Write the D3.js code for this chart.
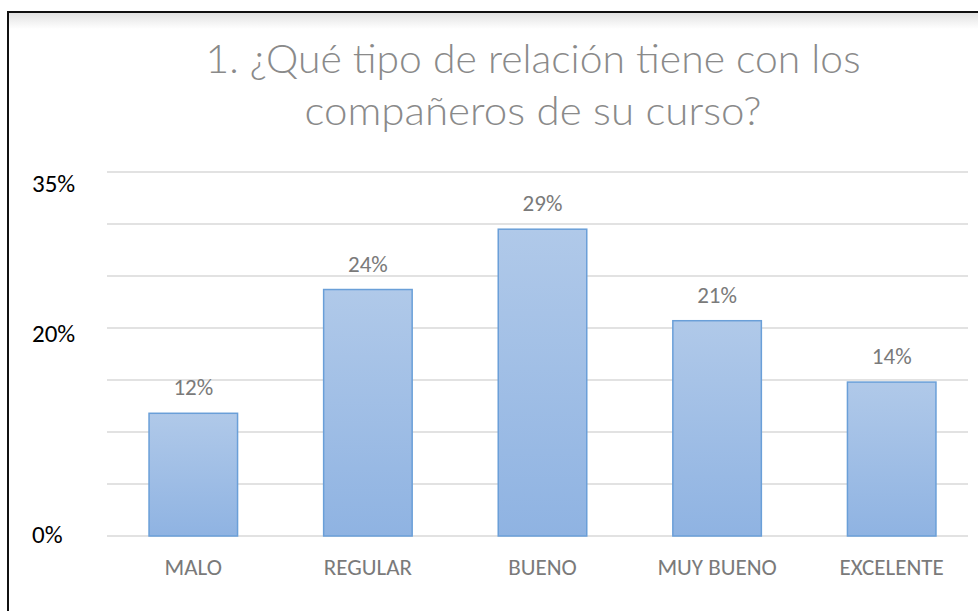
<!DOCTYPE html>
<html>
<head>
<meta charset="utf-8">
<script src="https://cdn.jsdelivr.net/npm/d3@7"></script>
<style>
  body { margin: 0; background: #fff; }
  svg { display: block; }
</style>
</head>
<body>
<div id="chart"></div>
<script>
const categories = ['MALO', 'REGULAR', 'BUENO', 'MUY BUENO', 'EXCELENTE'];
const values = [0.118, 0.237, 0.295, 0.207, 0.148];
const valueLabels = ['12%', '24%', '29%', '21%', '14%'];
const gridTicks = [0, 0.05, 0.10, 0.15, 0.20, 0.25, 0.30, 0.35];
const axisLabels = [0.35, 0.20, 0];
const titleLines = ['1. ¿Qué tipo de relación tiene con los', 'compañeros de su curso?'];

const width = 978;
const height = 611;
const font = "Carlito, 'Liberation Sans Narrow', 'DejaVu Sans Condensed', 'Open Sans', sans-serif";
const lightFont = "Lato, Carlito, 'Open Sans', sans-serif";

const svg = d3.select('#chart').append('svg')
  .attr('width', width)
  .attr('height', height);

const defs = svg.append('defs');

// bar gradient, light at the top
const barGrad = defs.append('linearGradient')
  .attr('id', 'barGrad')
  .attr('x1', 0).attr('y1', 0).attr('x2', 0).attr('y2', 1);
barGrad.append('stop').attr('offset', '0%').attr('stop-color', '#b0c9e9');
barGrad.append('stop').attr('offset', '100%').attr('stop-color', '#8fb3e2');

// soft shadow under the top frame line
const shadowGrad = defs.append('linearGradient')
  .attr('id', 'shadowGrad')
  .attr('x1', 0).attr('y1', 0).attr('x2', 0).attr('y2', 1);
shadowGrad.append('stop').attr('offset', '0%').attr('stop-color', '#e2e2e2');
shadowGrad.append('stop').attr('offset', '100%').attr('stop-color', '#ffffff');

svg.append('rect')
  .attr('x', 9).attr('y', 13)
  .attr('width', width - 9).attr('height', 16)
  .attr('fill', 'url(#shadowGrad)');

// frame: top and left lines only
svg.append('path')
  .attr('d', `M8,${height} V12 H${width}`)
  .attr('fill', 'none')
  .attr('stroke', '#111')
  .attr('stroke-width', 2);

const x = d3.scaleBand()
  .domain(categories)
  .range([106, 979])
  .paddingInner(0.493)
  .paddingOuter(0.2465);

const y = d3.scaleLinear()
  .domain([0, 0.35])
  .range([536, 172]);

// the left labels were pasted on and sit a little lower (baselines)
const yLabel = d3.scaleLinear()
  .domain([0, 0.35])
  .range([543, 192]);

// gridlines
svg.append('g')
  .selectAll('line')
  .data(gridTicks)
  .join('line')
  .attr('x1', 107)
  .attr('x2', 968)
  .attr('y1', d => y(d))
  .attr('y2', d => y(d))
  .attr('stroke', '#d9d9d9')
  .attr('stroke-width', 1.5);

// bars
svg.append('g')
  .selectAll('rect')
  .data(values)
  .join('rect')
  .attr('x', (d, i) => x(categories[i]))
  .attr('y', d => y(d))
  .attr('width', x.bandwidth())
  .attr('height', d => y(0) - y(d))
  .attr('fill', 'url(#barGrad)')
  .attr('stroke', '#6a9fd8')
  .attr('stroke-width', 1.5);

// value labels
svg.append('g')
  .selectAll('text')
  .data(values)
  .join('text')
  .attr('x', (d, i) => x(categories[i]) + x.bandwidth() / 2)
  .attr('y', d => y(d) - 18)
  .attr('text-anchor', 'middle')
  .attr('font-family', font)
  .attr('font-size', 23)
  .attr('fill', '#7a7a7a')
  .text((d, i) => valueLabels[i]);

// category labels
svg.append('g')
  .selectAll('text')
  .data(categories)
  .join('text')
  .attr('x', d => x(d) + x.bandwidth() / 2)
  .attr('y', 575)
  .attr('text-anchor', 'middle')
  .attr('font-family', font)
  .attr('font-size', 23)
  .attr('fill', '#7a7a7a')
  .text(d => d);

// y labels
svg.append('g')
  .selectAll('text')
  .data(axisLabels)
  .join('text')
  .attr('x', 32)
  .attr('y', d => yLabel(d))
  .attr('font-family', font)
  .attr('font-size', 25)
  .attr('fill', '#000')
  .text(d => d3.format('.0%')(d));

// title, squeezed to the width seen in the picture
const titleWidths = [655, 457];
svg.append('g')
  .selectAll('text')
  .data(titleLines)
  .join('text')
  .attr('x', 533)
  .attr('y', (d, i) => 73 + i * 52)
  .attr('text-anchor', 'middle')
  .attr('font-family', lightFont)
  .attr('font-weight', 300)
  .attr('font-size', 40)
  .attr('fill', '#8a8a8a')
  .text(d => d)
  .each(function (d, i) {
    const w = this.getComputedTextLength();
    if (Math.abs(w - titleWidths[i]) > 4) {
      d3.select(this)
        .attr('textLength', titleWidths[i])
        .attr('lengthAdjust', 'spacingAndGlyphs');
    }
  });
</script>
</body>
</html>
